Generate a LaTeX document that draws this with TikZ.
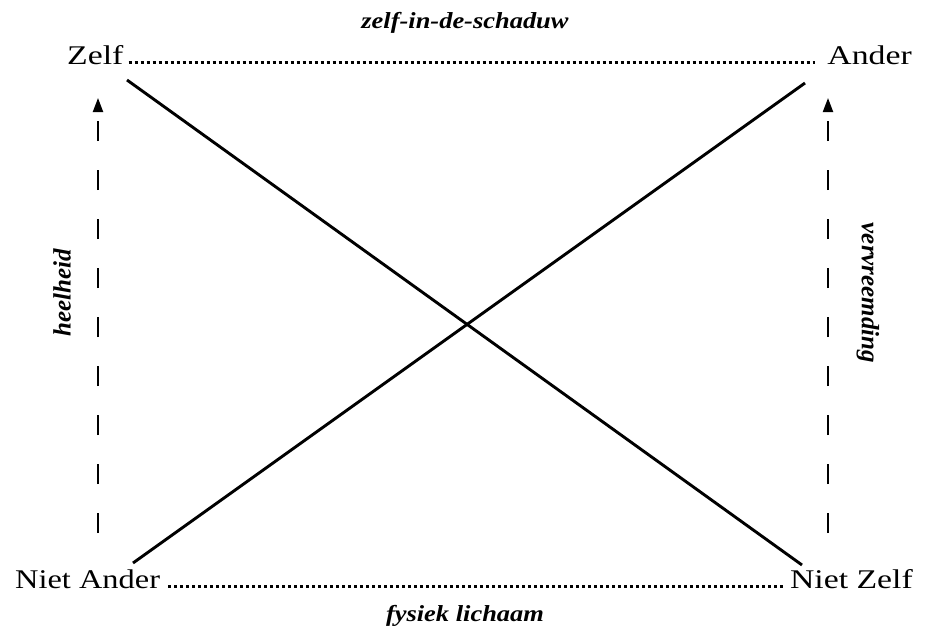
\documentclass[tikz,border=0pt]{standalone}
\usepackage{fontspec}
\setmainfont{Liberation Serif}
\usetikzlibrary{arrows.meta}
\newcommand\wideR[1]{\scalebox{1.25}[1]{#1}}
\newcommand\wideI[1]{\scalebox{1.15}[1]{#1}}
\begin{document}
\begin{tikzpicture}[x=1pt,y=-1pt]
\tikzset{
 corner/.style={inner sep=0pt, font=\fontsize{27}{27}\selectfont},
 axislab/.style={inner sep=0pt, font=\fontsize{23}{23}\selectfont\bfseries\itshape},
 sidelab/.style={inner sep=0pt, font=\fontsize{25}{25}\selectfont\bfseries\itshape},
 dotline/.style={line width=3.2pt, dash pattern=on 3pt off 3pt},
 cross/.style={line width=2.9pt},
 dasharrow/.style={line width=2pt, dash pattern=on 20pt off 29pt, -{Triangle[width=10pt,length=14pt]}},
}
\useasboundingbox[fill=white] (0,0) rectangle (930,632);
\node[corner, anchor=base west] (zelf) at (67,64) {\wideR{Zelf}};
\node[corner, anchor=base east] (ander) at (912,64) {\wideR{Ander}};
\node[corner, anchor=base west] (nander) at (15,588) {\scalebox{1.2}[1]{Niet Ander}};
\node[corner, anchor=base east] (nzelf) at (913,588) {\wideR{Niet Zelf}};
\node[axislab, anchor=base] (top) at (465,28) {\wideI{zelf-in-de-schaduw}};
\node[axislab, anchor=base] (bot) at (465,621) {\wideI{fysiek lichaam}};
\node[sidelab, rotate=90] (heel) at (62,293) {heelheid};
\node[sidelab, rotate=-90] (verv) at (868,293) {vervreemding};
\draw[dotline] ([xshift=5pt,yshift=1.6pt]zelf.base east) -- ([xshift=-12pt,yshift=1.6pt]ander.base west);
\draw[dotline] ([xshift=8pt,yshift=1.6pt]nander.base east) -- ([xshift=-7pt,yshift=1.6pt]nzelf.base west);
\coordinate (zs) at (127,80); \coordinate (ze) at (802,565);
\coordinate (as) at (133,563); \coordinate (ae) at (805,83);
\draw[cross] (zs) -- (ze);
\draw[cross] (as) -- (ae);
\coordinate (l0) at (98,533); \coordinate (l1) at (98,98);
\coordinate (r0) at (828,533); \coordinate (r1) at (828,98);
\draw[dasharrow] (l0) -- (l1);
\draw[dasharrow] (r0) -- (r1);
\end{tikzpicture}
\end{document}
